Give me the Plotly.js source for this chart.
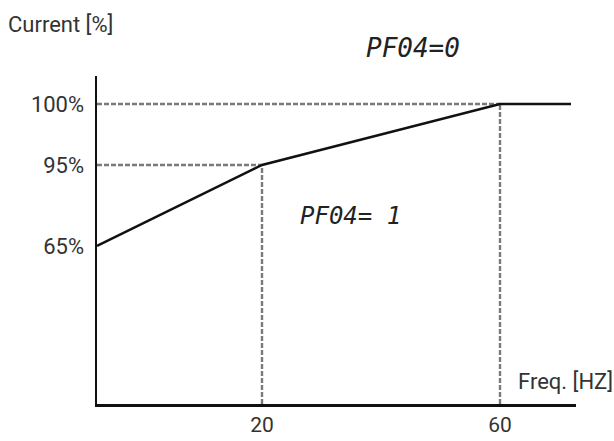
<!DOCTYPE html>
<html>
<head>
<meta charset="utf-8">
<script src="https://cdn.plot.ly/plotly-3.0.1.min.js"></script>
<style>html,body{margin:0;padding:0;background:#fff;}#chart{width:614px;height:441px;}</style>
</head>
<body>
<div id="chart"></div>
<script>
// Schematic (not to scale) chart: positions are schematic units along each axis.
const freqLabels = ['20', '60'];
const freqPos = [165, 403];
const currentLabels = ['65%', '95%', '100%'];
const currentPos = [158, 239, 300];
// Current limit curve (schematic positions): 0 Hz -> 65%, 20 Hz -> 95%, 60 Hz -> 100%, beyond -> 100%
const curveX = [0, 165, 403, 474];
const curveY = [158, 239, 300, 300];
const modeLabels = ['PF04=0', 'PF04= 1'];

const guideColor = '#7a7a7a';
const guideLine = {color: guideColor, width: 2.4, dash: '5px,2px'};
const traces = [
  // horizontal guides
  {x: [0, curveX[1]], y: [curveY[1], curveY[1]], mode: 'lines', line: guideLine, hoverinfo: 'skip'},
  {x: [0, curveX[2]], y: [curveY[2], curveY[2]], mode: 'lines', line: guideLine, hoverinfo: 'skip'},
  // vertical guides
  {x: [curveX[1], curveX[1]], y: [0, curveY[1]], mode: 'lines', line: guideLine, hoverinfo: 'skip'},
  {x: [curveX[2], curveX[2]], y: [0, curveY[2]], mode: 'lines', line: guideLine, hoverinfo: 'skip'},
  // curve
  {x: curveX, y: curveY, mode: 'lines', line: {color: '#111', width: 2.5}, hoverinfo: 'skip'}
];

const tickFont = {family: 'Roboto, sans-serif', size: 22, color: '#333'};
const xTickFont = {family: 'Roboto, sans-serif', size: 21, color: '#333'};
const titleFont = {family: 'Roboto, sans-serif', size: 22, color: '#333'};
const segFont = {family: '"DejaVu Sans Mono", monospace', size: 26, color: '#222', style: 'italic'};
const segFont2 = {family: '"DejaVu Sans Mono", monospace', size: 24, color: '#222', style: 'italic'};

const layout = {
  width: 614, height: 441,
  margin: {l: 97, r: 38, t: 76, b: 37},
  paper_bgcolor: '#fff', plot_bgcolor: 'rgba(0,0,0,0)',
  showlegend: false,
  xaxis: {
    range: [0, 479], showgrid: false, zeroline: false,
    showline: true, linecolor: '#111', linewidth: 2.5,
    tickmode: 'array', tickvals: freqPos, ticktext: freqLabels,
    ticks: '', tickfont: xTickFont, ticklabelstandoff: 0, fixedrange: true
  },
  yaxis: {
    range: [0, 328], showgrid: false, zeroline: false,
    showline: true, linecolor: '#111', linewidth: 2.5,
    tickmode: 'array', tickvals: currentPos, ticktext: currentLabels,
    ticks: '', tickfont: tickFont, ticklabelstandoff: 6, fixedrange: true
  },
  annotations: [
    {xref: 'paper', yref: 'paper', x: (6 - 97) / 479, y: (404 - 25) / 328, xanchor: 'left', yanchor: 'middle',
     text: 'Current [%]', showarrow: false, font: titleFont},
    {xref: 'paper', yref: 'paper', x: (516 - 97) / 479, y: (404 - 381) / 328, xanchor: 'left', yanchor: 'middle',
     text: 'Freq. [HZ]', showarrow: false, font: titleFont},
    {xref: 'paper', yref: 'paper', x: (413 - 97) / 479, y: (404 - 48) / 328, xanchor: 'center', yanchor: 'middle',
     text: modeLabels[0], showarrow: false, font: segFont},
    {xref: 'paper', yref: 'paper', x: (350 - 97) / 479, y: (404 - 216) / 328, xanchor: 'center', yanchor: 'middle',
     text: modeLabels[1], showarrow: false, font: segFont2}
  ]
};

Plotly.newPlot('chart', traces, layout, {displayModeBar: false, staticPlot: true});
</script>
</body>
</html>
